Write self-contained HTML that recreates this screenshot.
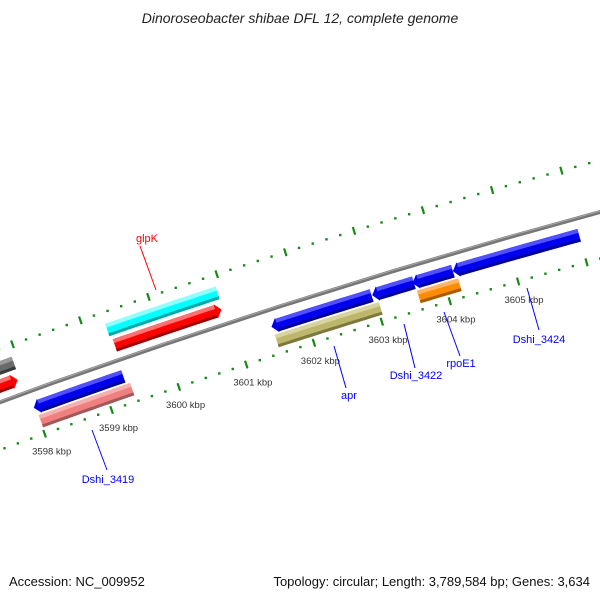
<!DOCTYPE html>
<html><head><meta charset="utf-8">
<style>
body{margin:0;background:#fff;}
svg{display:block;font-family:"Liberation Sans","DejaVu Sans",sans-serif;}
</style></head>
<body>
<svg id="map" width="600" height="600" viewBox="0 0 600 600">
<rect width="600" height="600" fill="#fff"/>
<text x="300" y="23" text-anchor="middle" font-size="14" font-style="italic" fill="#222">Dinoroseobacter shibae DFL 12, complete genome</text>
<g id="ticks"></g>
<g id="backbone"></g>
<g id="feats"></g>
<g id="labels">
 <line x1="140" y1="246" x2="156" y2="290" stroke="#f00" stroke-width="1"/>
 <text x="147" y="242" text-anchor="middle" font-size="11" fill="#f00">glpK</text>
 <line x1="92" y1="430" x2="107" y2="470" stroke="#00f" stroke-width="1"/>
 <text x="108" y="483" text-anchor="middle" font-size="11" fill="#00f">Dshi_3419</text>
 <line x1="334" y1="346" x2="346" y2="388" stroke="#00f" stroke-width="1"/>
 <text x="349" y="399" text-anchor="middle" font-size="11" fill="#00f">apr</text>
 <line x1="404" y1="324" x2="415" y2="368" stroke="#00f" stroke-width="1"/>
 <text x="416" y="379" text-anchor="middle" font-size="11" fill="#00f">Dshi_3422</text>
 <line x1="444" y1="312" x2="460" y2="356" stroke="#00f" stroke-width="1"/>
 <text x="461" y="367" text-anchor="middle" font-size="11" fill="#00f">rpoE1</text>
 <line x1="527" y1="288" x2="539" y2="330" stroke="#00f" stroke-width="1"/>
 <text x="539" y="343" text-anchor="middle" font-size="11" fill="#00f">Dshi_3424</text>
</g>
<text x="9" y="586" font-size="13" fill="#111">Accession: NC_009952</text>
<text x="590" y="586" text-anchor="end" font-size="13" fill="#111">Topology: circular; Length: 3,789,584 bp; Genes: 3,634</text>
</svg>
<script>
// data (kbp)
const featStart = [3590.0, 3590.0, 3599.34, 3599.31, 3597.98, 3601.50, 3602.98, 3603.57, 3604.16, 3598.01, 3601.51, 3603.60];
const featEnd   = [3597.93, 3597.90, 3600.91, 3600.93, 3599.31, 3602.97, 3603.59, 3604.16, 3606.00, 3599.37, 3603.04, 3604.20];
const featTrack = [2, 1, 1, 2, -1, -1, -1, -1, -1, -2, -2, -2];
const featStrand = [0, 1, 1, 0, -1, -1, -1, -1, -1, 0, 0, 0];
const featColor = ["gray","red","red","cyan","blue","blue","blue","blue","blue","pink","khaki","orange"];
const tickLabels = [3598, 3599, 3600, 3601, 3602, 3603, 3604, 3605];

const palette = {
 gray:["#6a6a6a","#9a9a9a","#3a3a3a"], red:["#ff0000","#ff7070","#a00000"],
 cyan:["#00ffff","#90ffff","#00a8a8"], blue:["#0000ee","#5050ff","#00009a"],
 pink:["#f08080","#f6b0b0","#a05858"], khaki:["#bdb76b","#d8d4a2","#7d7840"],
 orange:["#ff8c00","#ffb466","#a85c00"]
};
const NS = "http://www.w3.org/2000/svg";
function fit(p1,p2,p3){
 const [ax,ay]=p1,[bx,by]=p2,[cx,cy]=p3;
 const d=2*(ax*(by-cy)+bx*(cy-ay)+cx*(ay-by));
 const ux=((ax*ax+ay*ay)*(by-cy)+(bx*bx+by*by)*(cy-ay)+(cx*cx+cy*cy)*(ay-by))/d;
 const uy=((ax*ax+ay*ay)*(cx-bx)+(bx*bx+by*by)*(ax-cx)+(cx*cx+cy*cy)*(bx-ax))/d;
 return [ux,uy,Math.hypot(ax-ux,ay-uy)];
}
const [CX,CY,R] = fit([0,402],[300,300],[600,212]);
const PXK = 71.5;
const a0 = Math.atan2(346-CY,165-CX);
function pt(kbp, off){
 const a = a0 + (kbp-3600)*PXK/R; const r = R-off;
 return [CX+r*Math.cos(a), CY+r*Math.sin(a)];
}
function arcPts(s,e,off){ const out=[]; const n=12; for(let i=0;i<=n;i++) out.push(pt(s+(e-s)*i/n,off)); return out; }
function mk(tag,attrs,parent){ const el=document.createElementNS(NS,tag); for(const k in attrs) el.setAttribute(k,attrs[k]); parent.appendChild(el); return el; }
function fmt(ps){ return ps.map(p=>p[0].toFixed(1)+","+p[1].toFixed(1)).join(" "); }

const bb=document.getElementById("backbone");
let e1=mk("polyline",{points:fmt(arcPts(3590,3610,0)),fill:"none",stroke:"#777","stroke-width":4},bb);


let e2=mk("polyline",{points:fmt(arcPts(3590,3610,-1)),fill:"none",stroke:"#aaa","stroke-width":1},bb);



const tg=document.getElementById("ticks");
[-50,45].forEach(off=>{
 for(let b=35960;b<=36080;b+=2){
  const k=b/10;
  if(b%10===0){
   const p1=pt(k,off-4),p2=pt(k,off+4);
   const t=mk("line",{x1:p1[0],y1:p1[1],x2:p2[0],y2:p2[1],stroke:"#168a16","stroke-width":2.2},tg);
   
   
  } else {
   const p=pt(k,off);
   const d=mk("rect",{x:p[0]-1.2,y:p[1]-1.2,width:2.4,height:2.4,fill:"#168a16"},tg);
   
   
  }
 }
});
tickLabels.forEach(k=>{
 const p=pt(k,63);
 const t=mk("text",{x:p[0]+1,y:p[1]+4,"text-anchor":"middle","font-size":"9.5",fill:"#333"},tg);
 t.textContent=k+" kbp";
 
 
});

const fg=document.getElementById("feats");
const trackOff={1:-15,2:-32,"-1":17,"-2":32};
const H=13;
for(let i=0;i<featStart.length;i++){
 const s=featStart[i],e=featEnd[i],off=trackOff[featTrack[i]],col=palette[featColor[i]];
 const top=off-H/2,bot=off+H/2,head=6/PXK;
 let pts;
 if(featStrand[i]===1){
  const eb=e-head;
  pts=arcPts(s,eb,top).concat([pt(eb,top-1),pt(e,off),pt(eb,bot+1)]).concat(arcPts(s,eb,bot).reverse());
 } else if(featStrand[i]===-1){
  const sb=s+head;
  pts=arcPts(sb,e,top).concat(arcPts(sb,e,bot).reverse()).concat([pt(sb,bot+1),pt(s,off),pt(sb,top-1)]);
 } else {
  pts=arcPts(s,e,top).concat(arcPts(s,e,bot).reverse());
 }
 const g=mk("g",{},fg);
 
 
 mk("polygon",{points:fmt(pts),fill:col[0]},g);
 const s2=featStrand[i]===-1?s+head:s, e2b=featStrand[i]===1?e-head:e;
 mk("polygon",{points:fmt(arcPts(s2,e2b,top).concat(arcPts(s2,e2b,top+4).reverse())),fill:col[1]},g);
 mk("polygon",{points:fmt(arcPts(s2,e2b,bot-3).concat(arcPts(s2,e2b,bot).reverse())),fill:col[2]},g);
}
</script>
</body></html>
